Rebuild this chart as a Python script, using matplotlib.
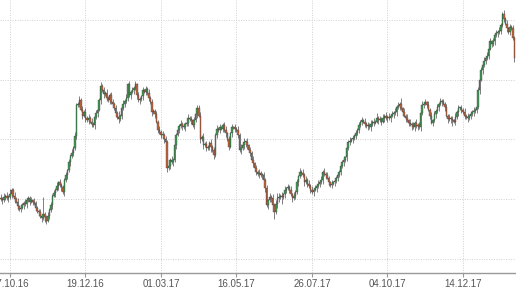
import numpy as np
import matplotlib
matplotlib.use("Agg")
import matplotlib.pyplot as plt

# ===========================
# Daily closes (one value per trading day)
# ===========================
closes = [
    45.1, 45.0, 44.9, 45.2, 45.3, 45.1, 45.2, 45.4, 45.8, 45.3,
    45.0, 44.8, 44.4, 44.2, 44.3, 44.5, 44.7, 44.6, 44.9, 45.1,
    44.8, 44.9, 44.8, 44.7, 44.3, 44.0, 43.9, 43.6, 43.4, 43.8,
    43.5, 43.2, 43.6, 44.1, 44.5, 45.3, 45.5, 45.8, 46.1, 46.4,
    46.2, 46.0, 45.6, 46.6, 47.0, 47.4, 48.1, 48.6, 48.9, 49.3,
    50.3, 52.9, 53.0, 53.3, 52.5, 52.0, 52.3, 51.8, 51.6, 51.8,
    51.5, 51.3, 51.2, 51.9, 52.2, 52.5, 53.3, 54.5, 54.1, 53.8,
    53.9, 53.5, 53.3, 53.7, 53.1, 53.0, 52.6, 52.2, 51.9, 51.7,
    52.0, 52.6, 53.0, 53.2, 53.5, 54.6, 53.7, 54.0, 54.1, 54.3,
    54.6, 53.7, 53.3, 53.4, 53.6, 54.1, 54.0, 54.2, 53.9, 53.5,
    53.1, 52.3, 52.4, 52.1, 51.5, 50.8, 50.6, 50.4, 50.4, 50.0,
    49.8, 47.6, 47.8, 48.3, 48.1, 48.3, 49.5, 50.4, 50.8, 51.1,
    51.3, 51.1, 51.0, 51.3, 51.4, 51.8, 51.7, 51.6, 51.2, 51.6,
    52.1, 52.6, 52.0, 50.0, 50.2, 49.5, 49.6, 49.3, 49.4, 49.7,
    49.4, 49.1, 48.7, 50.4, 50.9, 50.8, 51.0, 50.9, 51.2, 50.8,
    50.5, 50.0, 49.4, 50.5, 51.0, 51.0, 50.9, 50.8, 50.4, 49.1,
    49.3, 49.5, 49.8, 49.8, 49.5, 49.1, 48.9, 48.3, 48.0, 47.6,
    47.3, 47.1, 47.2, 47.0, 47.0, 46.6, 45.9, 44.5, 44.9, 45.2,
    45.1, 44.5, 43.9, 44.6, 45.1, 45.2, 45.3, 45.2, 45.4, 45.8,
    45.9, 46.0, 45.8, 45.4, 45.1, 45.3, 45.6, 46.4, 46.9, 47.3,
    47.2, 47.0, 46.4, 46.6, 46.3, 46.1, 45.8, 45.6, 45.8, 45.9,
    46.1, 46.3, 46.4, 46.6, 47.3, 47.1, 47.0, 46.8, 46.4, 46.2,
    46.3, 46.4, 46.5, 46.8, 47.0, 47.3, 47.8, 48.1, 48.3, 48.5,
    49.3, 49.8, 49.9, 50.0, 50.1, 50.3, 50.5, 50.8, 51.2, 51.5,
    51.6, 51.5, 51.3, 51.1, 51.2, 51.0, 51.3, 51.5, 51.4, 51.5,
    51.8, 51.6, 51.7, 51.5, 51.8, 52.0, 51.8, 51.9, 51.8, 52.0,
    52.1, 52.2, 52.3, 52.7, 52.8, 53.0, 52.6, 52.3, 52.0, 51.8,
    51.6, 51.4, 51.3, 51.2, 51.0, 51.4, 51.1, 51.2, 51.0, 52.2,
    52.9, 53.0, 53.1, 52.9, 52.5, 52.0, 51.4, 51.6, 52.1, 52.4,
    52.7, 53.0, 53.2, 53.1, 53.0, 52.7, 52.0, 51.7, 51.8, 51.7,
    51.6, 51.5, 51.9, 52.3, 52.6, 52.6, 52.5, 52.3, 52.0, 51.9,
    51.8, 52.0, 52.1, 52.3, 52.4, 52.5, 52.7, 54.1, 55.0, 55.8,
    56.2, 56.6, 56.8, 57.0, 57.6, 58.2, 58.0, 58.2, 58.7, 58.9,
    59.0, 59.1, 59.6, 60.5, 60.1, 59.7, 59.3, 59.0, 59.4, 59.3,
    58.5, 56.8,
]
first_open = 45.0

# wick lengths, one digit per day (digit * 0.15)
upper_wicks = (
    "12121213112121211211121211121911212121212111212121"
    "21121212121211231212121122121311212121212121121212"
    "12112121212121212121212112121212221212112121212112"
    "21212121212121212121212112121212123212121212121212"
    "12121212121212121211212121212121212121212121212121"
    "31212121212121213121212121212121212121212121212121"
    "212121212121212112121212121212121121"
    "212121"
)
lower_wicks = (
    "21212121212121212121212121212132121212121212121212"
    "12121212121212121212121212121212121212121212121212"
    "12121212121212121212121212121212121212123121212121"
    "21212121212123212121212121212121412214122121212121"
    "21212121212121212121212121212121212121212121212121"
    "12121212121212121212121312121212121212121212121212"
    "312121212121212121212121212121212121"
    "212112"
)

tick_pos = [7, 57, 107, 157, 207, 257, 307]
tick_labels = ["07.10.16", "19.12.16", "01.03.17", "16.05.17",
               "26.07.17", "04.10.17", "14.12.17"]

# ===========================
# OHLC
# ===========================
c = np.array(closes)
o = np.concatenate([[first_open], c[:-1]])
up = np.array([int(d) for d in upper_wicks[:len(c)]]) * 0.15
dn = np.array([int(d) for d in lower_wicks[:len(c)]]) * 0.15
hi = np.maximum(o, c) + up
lo = np.minimum(o, c) - dn
idx = np.arange(len(c))

green = "#3f9a52"
red = "#c7653c"
colors = np.where(c >= o, green, red)

# ===========================
# Plot
# ===========================
fig = plt.figure(figsize=(5.16, 2.90), dpi=100)
ax = fig.add_axes([0, 17 / 290, 1, 273 / 290])

ax.vlines(idx, lo, hi, color="#3a3a3a", linewidth=0.45, zorder=2)
body_h = np.maximum(np.abs(c - o), 0.08)
ax.bar(idx, body_h, bottom=np.minimum(o, c), width=1.0,
       color=colors, edgecolor="#3a3a3a", linewidth=0.25, zorder=3)

ax.set_xlim(0.38, 342.1)
ax.set_ylim(38.82, 61.67)

ax.set_yticks([40, 45, 50, 55, 60])
ax.set_xticks(tick_pos)
ax.set_xticklabels(tick_labels, fontsize=7, color="#555555",
                   family=["Liberation Sans", "DejaVu Sans"])
ax.tick_params(axis="x", length=3, width=0.8, color="#999999", pad=1.5)
ax.tick_params(axis="y", left=False, labelleft=False)

ax.grid(True, color="#cfcfcf", linestyle=(0, (1, 1.5)), linewidth=0.7, zorder=0)
ax.set_axisbelow(True)

for s in ["top", "left", "right"]:
    ax.spines[s].set_visible(False)
ax.spines["bottom"].set_color("#999999")
ax.spines["bottom"].set_linewidth(1.0)

fig.savefig("out.png", dpi=100)
